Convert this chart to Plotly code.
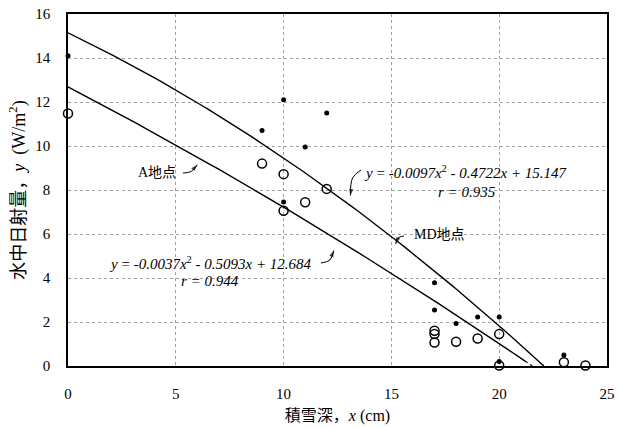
import numpy as np
import plotly.graph_objects as go

# Data
md_x = [0, 9, 10, 10, 11, 12, 17, 17, 18, 19, 20, 20, 23]
md_y = [14.1, 10.7, 12.1, 7.45, 9.95, 11.5, 3.78, 2.55, 1.93, 2.23, 2.23, 0.2, 0.5]

a_x = [0, 9, 10, 10, 11, 12, 17, 17, 17, 18, 19, 20, 20, 23, 24]
a_y = [11.48, 9.2, 8.72, 7.06, 7.44, 8.05, 1.6, 1.45, 1.07, 1.1, 1.25, 1.45, 0.02, 0.17, 0.02]

# Regression coefficients printed on the chart (a, b, c for y = a x^2 + b x + c)
md_coef = [-0.0097, -0.4722, 15.147]
a_coef = [-0.0037, -0.5093, 12.684]

x_ticks = [0, 5, 10, 15, 20, 25]
y_ticks = [0, 2, 4, 6, 8, 10, 12, 14, 16]


def quad(c, x):
    return c[0] * x ** 2 + c[1] * x + c[2]


def root(c):
    r = np.roots(c)
    r = r[np.isreal(r)].real
    return float(r[r > 0].min())


md_end = root(md_coef)
a_end = root(a_coef)
xs_md = np.linspace(0, md_end, 120)
xs_a = np.linspace(0, 21.2, 120)
xs_a_dot = np.linspace(21.2, a_end, 10)

serif = "Liberation Serif, Times New Roman, Noto Sans CJK JP, serif"
line = dict(color="black", width=1.4)

fig = go.Figure()
fig.add_trace(go.Scatter(x=xs_md, y=quad(md_coef, xs_md), mode="lines", line=line, showlegend=False, hoverinfo="skip"))
fig.add_trace(go.Scatter(x=xs_a, y=quad(a_coef, xs_a), mode="lines", line=line, showlegend=False, hoverinfo="skip"))
fig.add_trace(go.Scatter(x=xs_a_dot, y=quad(a_coef, xs_a_dot), mode="lines",
                         line=dict(color="black", width=1.2, dash="dot"), showlegend=False, hoverinfo="skip"))
fig.add_trace(go.Scatter(x=a_x, y=a_y, mode="markers", showlegend=False, cliponaxis=False,
                         marker=dict(symbol="circle-open", size=9, color="black", line=dict(width=1.5))))
fig.add_trace(go.Scatter(x=md_x, y=md_y, mode="markers", showlegend=False, cliponaxis=False,
                         marker=dict(symbol="circle", size=5, color="black")))

# small curved pointer arrows (label decorations)
pointers = [
    ([5.33, 5.71, 6.0], [8.77, 8.84, 9.15]),     # A地点
    ([15.58, 15.31, 15.2], [5.91, 5.82, 5.55]),  # MD地点
    ([13.59, 13.2, 13.1], [8.91, 8.55, 7.75]),   # MD equation
    ([11.73, 12.15, 12.33], [4.68, 4.82, 5.25]), # A equation
]
for px, py in pointers:
    fig.add_trace(go.Scatter(
        x=px, y=py, mode="lines+markers", showlegend=False, hoverinfo="skip",
        line=dict(color="black", width=1, shape="spline"),
        marker=dict(symbol="arrow", size=[0, 0, 7], angleref="previous", color="black",
                    line=dict(width=0))))

ann_font = dict(family=serif, size=14, color="black")
eq_font = dict(family=serif, size=15, color="black")
anns = [
    dict(x=4.15, y=8.8, text="A地点", showarrow=False, font=ann_font),
    dict(x=17.25, y=6.0, text="MD地点", showarrow=False, font=ann_font),
    dict(x=18.46, y=8.82, text="<i>y</i> = <i>-0.0097x</i><sup>2</sup> <i>- 0.4722x + 15.147</i>",
         showarrow=False, font=eq_font),
    dict(x=18.5, y=7.91, text="<i>r = 0.935</i>", showarrow=False, font=eq_font),
    dict(x=6.59, y=4.68, text="<i>y</i> = <i>-0.0037x</i><sup>2</sup> <i>- 0.5093x + 12.684</i>",
         showarrow=False, font=eq_font),
    dict(x=6.59, y=3.86, text="<i>r = 0.944</i>", showarrow=False, font=eq_font),
]

axis_common = dict(showline=True, linecolor="black", linewidth=1.5, mirror=True, automargin=False,
                   showgrid=True, gridcolor="#a0a0a0", griddash="dot", gridwidth=1,
                   zeroline=False, ticks="", tickfont=dict(family=serif, size=15, color="black"))

fig.update_layout(
    width=623, height=427,
    margin=dict(l=68, r=16, t=14, b=61),
    paper_bgcolor="white", plot_bgcolor="white",
    annotations=anns,
    xaxis=dict(range=[0, 25], tickvals=x_ticks, ticklabelstandoff=13,
               title=dict(text="積雪深，<i>x</i> (cm)", font=dict(family=serif, size=16, color="black"), standoff=9),
               **axis_common),
    yaxis=dict(range=[0, 16], tickvals=y_ticks, ticklabelstandoff=13,
               title=dict(text="水中日射量，<i>y</i>  (W/m<sup>2</sup>)", font=dict(family=serif, size=18, color="black"), standoff=5),
               **axis_common),
)

fig.write_html("out.html", config={"displayModeBar": False},
               post_script="document.body.style.margin='0';document.body.style.overflow='hidden';")
